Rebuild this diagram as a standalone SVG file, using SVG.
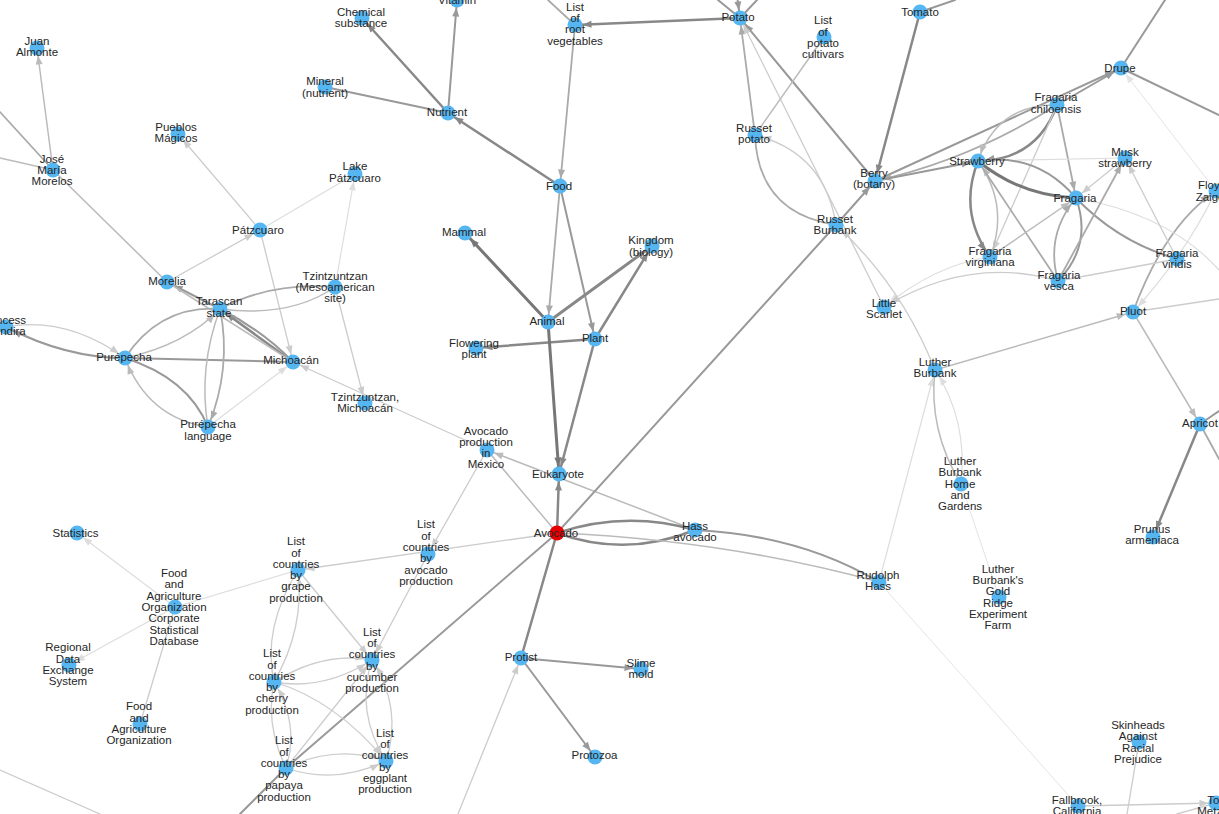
<svg xmlns="http://www.w3.org/2000/svg" width="1219" height="814" viewBox="0 0 1219 814">
<defs>
<style>
.e{fill:none;stroke-linecap:round}
.w3{stroke:#777;stroke-width:3}
.g8t{stroke:#888;stroke-width:3}
.g8{stroke:#888;stroke-width:2.5}
.g9{stroke:#999;stroke-width:2}
.ga{stroke:#aaa;stroke-width:1.8}
.gb{stroke:#bbb;stroke-width:1.5}
.gc{stroke:#ccc;stroke-width:1.3}
.gd{stroke:#ddd;stroke-width:1.2}
.ge{stroke:#e4e4e4;stroke-width:1}
.node circle{fill:#55b6f2}
.node text{font-family:"Liberation Sans",Arial,sans-serif;font-size:11.5px;fill:#262626;text-anchor:middle}
</style>
<marker id="a7" markerUnits="userSpaceOnUse" markerWidth="10" markerHeight="8" refX="16.5" refY="3.5" orient="auto" overflow="visible"><path d="M0,0 L9,3.5 L0,7 z" fill="#777"/></marker>
<marker id="a8" markerUnits="userSpaceOnUse" markerWidth="10" markerHeight="8" refX="16.5" refY="3.5" orient="auto" overflow="visible"><path d="M0,0 L9,3.5 L0,7 z" fill="#888"/></marker>
<marker id="a9" markerUnits="userSpaceOnUse" markerWidth="10" markerHeight="8" refX="16.5" refY="3.5" orient="auto" overflow="visible"><path d="M0,0 L9,3.5 L0,7 z" fill="#999"/></marker>
<marker id="aa" markerUnits="userSpaceOnUse" markerWidth="10" markerHeight="8" refX="16.5" refY="3.5" orient="auto" overflow="visible"><path d="M0,0 L9,3.5 L0,7 z" fill="#aaa"/></marker>
<marker id="ab" markerUnits="userSpaceOnUse" markerWidth="10" markerHeight="8" refX="16.5" refY="3.5" orient="auto" overflow="visible"><path d="M0,0 L9,3.5 L0,7 z" fill="#bbb"/></marker>
<marker id="ac" markerUnits="userSpaceOnUse" markerWidth="10" markerHeight="8" refX="16.5" refY="3.5" orient="auto" overflow="visible"><path d="M0,0 L9,3.5 L0,7 z" fill="#ccc"/></marker>
<marker id="ad" markerUnits="userSpaceOnUse" markerWidth="10" markerHeight="8" refX="16.5" refY="3.5" orient="auto" overflow="visible"><path d="M0,0 L9,3.5 L0,7 z" fill="#ddd"/></marker>
<marker id="ae" markerUnits="userSpaceOnUse" markerWidth="10" markerHeight="8" refX="16.5" refY="3.5" orient="auto" overflow="visible"><path d="M0,0 L9,3.5 L0,7 z" fill="#e4e4e4"/></marker>
</defs>
<rect width="1219" height="814" fill="#fff"/>
<g id="connectors">
<path class="e ga" d="M0,112 L53,170"/>
<path class="e gb" d="M0,158 L53,170"/>
<path class="e gb" d="M53,170 L37,48" marker-end="url(#ab)"/>
<path class="e gb" d="M53,170 L167,282"/>
<path class="e gc" d="M260,230 L178,134" marker-end="url(#ac)"/>
<path class="e gc" d="M167,282 L260,230" marker-end="url(#ac)"/>
<path class="e gd" d="M260,230 L355,174"/>
<path class="e gd" d="M335,287 L355,174" marker-end="url(#ad)"/>
<path class="e gc" d="M260,230 L293,362" marker-end="url(#ac)"/>
<path class="e gc" d="M335,287 L365,403" marker-end="url(#ac)"/>
<path class="e gc" d="M487,450 L293,362" marker-end="url(#ac)"/>
<path class="e ga" d="M220,309 Q270,282 335,287"/>
<path class="e gb" d="M220,309 Q290,318 335,287"/>
<path class="e g8" d="M293,362 L220,309" marker-end="url(#a8)"/>
<path class="e g9" d="M220,309 Q262,330 293,362"/>
<path class="e g9" d="M220,309 L167,282" marker-end="url(#a9)"/>
<path class="e gb" d="M167,282 L293,362"/>
<path class="e ga" d="M125,358 Q160,305 220,309"/>
<path class="e gb" d="M125,358 Q185,345 220,309" marker-end="url(#ab)"/>
<path class="e g9" d="M125,358 L293,362"/>
<path class="e g9" d="M125,358 Q188,378 208,427"/>
<path class="e gb" d="M208,427 Q148,418 125,358" marker-end="url(#ab)"/>
<path class="e gb" d="M220,309 Q198,368 208,427"/>
<path class="e ga" d="M220,309 Q232,368 208,427" marker-end="url(#aa)"/>
<path class="e gd" d="M208,427 L293,362" marker-end="url(#ad)"/>
<path class="e gc" d="M6,327 Q66,316 125,358" marker-end="url(#ac)"/>
<path class="e g9" d="M125,358 Q66,358 6,327" marker-end="url(#a9)"/>
<path class="e g8" d="M448,113 L362,18" marker-end="url(#a8)"/>
<path class="e g9" d="M448,113 L457,0" marker-end="url(#a9)"/>
<path class="e g9" d="M448,113 L325,87"/>
<path class="e g8" d="M560,186 L448,113" marker-end="url(#a8)"/>
<path class="e ga" d="M575,25 L560,186" marker-end="url(#aa)"/>
<path class="e ga" d="M548,0 L575,25"/>
<path class="e g8" d="M740,18 L575,25" marker-end="url(#a8)"/>
<path class="e ga" d="M560,186 L548,322" marker-end="url(#aa)"/>
<path class="e g9" d="M560,186 L595,339" marker-end="url(#a9)"/>
<path class="e w3" d="M548,322 L465,233" marker-end="url(#a7)"/>
<path class="e g8t" d="M548,322 L652,246" marker-end="url(#a8)"/>
<path class="e g8" d="M595,339 L652,246" marker-end="url(#a8)"/>
<path class="e g8" d="M595,339 L476,348" marker-end="url(#a8)"/>
<path class="e w3" d="M548,322 L559,474" marker-end="url(#a7)"/>
<path class="e g8" d="M595,339 L559,474" marker-end="url(#a8)"/>
<path class="e g8" d="M557,533 L559,474" marker-end="url(#a8)"/>
<path class="e gb" d="M695,530 L487,450" marker-end="url(#ab)"/>
<path class="e gb" d="M557,533 L487,450"/>
<path class="e gc" d="M487,450 L428,554" marker-end="url(#ac)"/>
<path class="e gc" d="M557,533 L298,570" marker-end="url(#ac)"/>
<path class="e gc" d="M428,554 L372,660" marker-end="url(#ac)"/>
<path class="e gc" d="M298,570 L372,660" marker-end="url(#ac)"/>
<path class="e g9" d="M557,533 L286,768"/>
<path class="e g9" d="M286,768 L240,814"/>
<path class="e g9" d="M557,533 L836,225"/>
<path class="e g8" d="M557,533 L521,658"/>
<path class="e g9" d="M521,658 L641,669" marker-end="url(#a9)"/>
<path class="e g9" d="M521,658 L595,757" marker-end="url(#a9)"/>
<path class="e gc" d="M458,814 L521,658" marker-end="url(#ac)"/>
<path class="e g8" d="M557,533 Q626,510 695,530"/>
<path class="e g8" d="M695,530 Q626,558 557,533"/>
<path class="e g9" d="M695,530 Q800,535 879,582"/>
<path class="e gb" d="M557,533 Q725,540 879,582"/>
<path class="e ge" d="M879,582 L1078,806"/>
<path class="e gd" d="M879,582 L935,370" marker-end="url(#ad)"/>
<path class="e ge" d="M961,484 L999,597"/>
<path class="e gb" d="M935,370 Q928,430 961,484"/>
<path class="e gd" d="M961,484 Q968,420 935,370" marker-end="url(#ad)"/>
<path class="e gb" d="M935,370 L1133,312" marker-end="url(#ab)"/>
<path class="e gb" d="M1133,312 L1200,424" marker-end="url(#ab)"/>
<path class="e g8" d="M1200,424 L1153,537" marker-end="url(#a8)"/>
<path class="e g9" d="M1200,424 L1219,411"/>
<path class="e ga" d="M1200,424 L1219,459"/>
<path class="e gc" d="M1133,312 L1219,299"/>
<path class="e ga" d="M1133,312 Q1165,225 1216,191" marker-end="url(#aa)"/>
<path class="e gd" d="M1216,191 Q1185,255 1133,312" marker-end="url(#ad)"/>
<path class="e ge" d="M1216,191 L1121,68" marker-end="url(#ae)"/>
<path class="e g9" d="M1121,68 L1219,115"/>
<path class="e g9" d="M1165,0 L1121,68"/>
<path class="e g8" d="M920,12 L875,181" marker-end="url(#a8)"/>
<path class="e g9" d="M920,12 L955,0"/>
<path class="e g9" d="M718,0 L740,18"/>
<path class="e g9" d="M736,-12 L740,18" marker-end="url(#a9)"/>
<path class="e g9" d="M757,0 L740,18"/>
<path class="e g9" d="M875,181 L740,18" marker-end="url(#a9)"/>
<path class="e ga" d="M755,135 L740,18" marker-end="url(#aa)"/>
<path class="e gc" d="M884,307 L740,18" marker-end="url(#ac)"/>
<path class="e gb" d="M824,37 L755,135"/>
<path class="e ga" d="M755,135 Q758,213 836,225"/>
<path class="e gc" d="M836,225 Q825,153 755,135" marker-end="url(#ac)"/>
<path class="e g9" d="M836,225 L875,181" marker-end="url(#a9)"/>
<path class="e gc" d="M935,370 Q902,286 836,225" marker-end="url(#ac)"/>
<path class="e g9" d="M875,181 L1121,68" marker-end="url(#a9)"/>
<path class="e ga" d="M1057,105 Q970,160 875,181" marker-end="url(#aa)"/>
<path class="e g9" d="M875,181 L978,161" marker-end="url(#a9)"/>
<path class="e g9" d="M1057,105 L1121,68" marker-end="url(#a9)"/>
<path class="e g8" d="M1057,105 Q1037,160 978,161"/>
<path class="e gb" d="M1057,105 Q997,104 978,161" marker-end="url(#ab)"/>
<path class="e ga" d="M1057,105 L1076,198" marker-end="url(#aa)"/>
<path class="e gc" d="M1057,105 L990,257" marker-end="url(#ac)"/>
<path class="e gd" d="M978,161 L1125,158"/>
<path class="e w3" d="M978,161 Q1021,196 1076,198"/>
<path class="e g9" d="M1076,198 Q1037,152 978,161" marker-end="url(#a9)"/>
<path class="e g8" d="M978,161 Q958,212 990,257" marker-end="url(#a8)"/>
<path class="e gb" d="M990,257 Q1010,206 978,161" marker-end="url(#ab)"/>
<path class="e ga" d="M978,161 L1058,281"/>
<path class="e g9" d="M1076,198 Q1118,242 1177,259"/>
<path class="e gd" d="M1076,198 Q1170,215 1219,270"/>
<path class="e gb" d="M990,257 L1076,198" marker-end="url(#ab)"/>
<path class="e ga" d="M1058,281 Q1045,235 1076,198" marker-end="url(#aa)"/>
<path class="e g9" d="M1058,281 Q1093,245 1076,198"/>
<path class="e ga" d="M1058,281 L1125,158" marker-end="url(#aa)"/>
<path class="e gc" d="M1125,158 L1076,198" marker-end="url(#ac)"/>
<path class="e gc" d="M1177,259 L1125,158" marker-end="url(#ac)"/>
<path class="e gc" d="M1058,281 L1177,259"/>
<path class="e gd" d="M990,257 Q935,265 884,307" marker-end="url(#ad)"/>
<path class="e gc" d="M1058,281 Q970,255 884,307" marker-end="url(#ac)"/>
<path class="e gd" d="M175,607 L77,533" marker-end="url(#ad)"/>
<path class="e gd" d="M175,607 L69,665" marker-end="url(#ad)"/>
<path class="e gc" d="M175,607 L140,724"/>
<path class="e gd" d="M298,570 L175,607"/>
<path class="e gc" d="M0,770 L100,814"/>
<path class="e gc" d="M298,570 Q262,628 274,682"/>
<path class="e gc" d="M274,682 Q305,628 298,570" marker-end="url(#ac)"/>
<path class="e gc" d="M274,682 Q323,651 372,660" marker-end="url(#ac)"/>
<path class="e gc" d="M274,682 Q323,691 372,660" marker-end="url(#ac)"/>
<path class="e gc" d="M274,682 Q335,700 386,761" marker-end="url(#ac)"/>
<path class="e gc" d="M274,682 Q265,725 286,768"/>
<path class="e gc" d="M286,768 Q300,725 274,682" marker-end="url(#ac)"/>
<path class="e gc" d="M286,768 L372,660" marker-end="url(#ac)"/>
<path class="e gc" d="M286,768 Q336,744 386,761" marker-end="url(#ac)"/>
<path class="e gc" d="M286,768 Q336,785 386,761" marker-end="url(#ac)"/>
<path class="e gc" d="M372,660 Q355,712 386,761" marker-end="url(#ac)"/>
<path class="e gc" d="M386,761 Q403,708 372,660" marker-end="url(#ac)"/>
<path class="e gc" d="M1139,742 L1127,814"/>
<path class="e gc" d="M1078,806 L1216,803" marker-end="url(#ac)"/>
<path class="e gc" d="M1177,814 L1216,803"/>
</g>
<g id="nodes">
<g id="n-juan" class="node"><circle cx="37" cy="48" r="7.5"/><text y="44.55"><tspan x="37">Juan</tspan><tspan x="37" dy="11.3">Almonte</tspan></text></g>
<g id="n-morelos" class="node"><circle cx="53" cy="170" r="7.5"/><text y="162.7"><tspan x="52">José</tspan><tspan x="52" dy="11.3">María</tspan><tspan x="52" dy="11.3">Morelos</tspan></text></g>
<g id="n-pueblos" class="node"><circle cx="178" cy="134" r="7.5"/><text y="130.85"><tspan x="176">Pueblos</tspan><tspan x="176" dy="11.3">Mágicos</tspan></text></g>
<g id="n-patzcuaro" class="node"><circle cx="260" cy="230" r="7.5"/><text x="258" y="234">Pátzcuaro</text></g>
<g id="n-lake" class="node"><circle cx="355" cy="174" r="7.5"/><text y="170.35"><tspan x="355">Lake</tspan><tspan x="355" dy="11.3">Pátzcuaro</tspan></text></g>
<g id="n-morelia" class="node"><circle cx="167" cy="282" r="7.5"/><text x="167" y="285">Morelia</text></g>
<g id="n-tarascan" class="node"><circle cx="220" cy="309" r="7.5"/><text y="305.35"><tspan x="219">Tarascan</tspan><tspan x="219" dy="11.3">state</tspan></text></g>
<g id="n-tzmeso" class="node"><circle cx="335" cy="287" r="7.5"/><text y="279.7"><tspan x="335">Tzintzuntzan</tspan><tspan x="335" dy="11.3">(Mesoamerican</tspan><tspan x="335" dy="11.3">site)</tspan></text></g>
<g id="n-erendira" class="node"><circle cx="6" cy="327" r="7.5"/><text y="323.6"><tspan x="4">Princess</tspan><tspan x="4" dy="11.3">Eréndira</tspan></text></g>
<g id="n-purepecha" class="node"><circle cx="125" cy="358" r="7.5"/><text x="124" y="361">Purépecha</text></g>
<g id="n-michoacan" class="node"><circle cx="293" cy="362" r="7.5"/><text x="291" y="363.5">Michoacán</text></g>
<g id="n-purlang" class="node"><circle cx="208" cy="427" r="7.5"/><text y="428.35"><tspan x="208">Purépecha</tspan><tspan x="208" dy="11.3">language</tspan></text></g>
<g id="n-tzmich" class="node"><circle cx="365" cy="403" r="7.5"/><text y="400.85"><tspan x="365">Tzintzuntzan,</tspan><tspan x="365" dy="11.3">Michoacán</tspan></text></g>
<g id="n-statistics" class="node"><circle cx="77" cy="533" r="7.5"/><text x="75.5" y="537">Statistics</text></g>
<g id="n-faocsd" class="node"><circle cx="175" cy="607" r="7.5"/><text y="577.1"><tspan x="174">Food</tspan><tspan x="174" dy="11.3">and</tspan><tspan x="174" dy="11.3">Agriculture</tspan><tspan x="174" dy="11.3">Organization</tspan><tspan x="174" dy="11.3">Corporate</tspan><tspan x="174" dy="11.3">Statistical</tspan><tspan x="174" dy="11.3">Database</tspan></text></g>
<g id="n-rdes" class="node"><circle cx="69" cy="665" r="7.5"/><text y="651.35"><tspan x="68">Regional</tspan><tspan x="68" dy="11.3">Data</tspan><tspan x="68" dy="11.3">Exchange</tspan><tspan x="68" dy="11.3">System</tspan></text></g>
<g id="n-fao" class="node"><circle cx="140" cy="724" r="7.5"/><text y="710.25"><tspan x="139">Food</tspan><tspan x="139" dy="11.3">and</tspan><tspan x="139" dy="11.3">Agriculture</tspan><tspan x="139" dy="11.3">Organization</tspan></text></g>
<g id="n-vitamin" class="node"><circle cx="457" cy="0" r="7.5"/><text x="457" y="4">Vitamin</text></g>
<g id="n-chem" class="node"><circle cx="362" cy="18" r="7.5"/><text y="15.55"><tspan x="361">Chemical</tspan><tspan x="361" dy="11.3">substance</tspan></text></g>
<g id="n-mineral" class="node"><circle cx="325" cy="87" r="7.5"/><text y="85.35"><tspan x="325">Mineral</tspan><tspan x="325" dy="11.3">(nutrient)</tspan></text></g>
<g id="n-nutrient" class="node"><circle cx="448" cy="113" r="7.5"/><text x="447" y="116.3">Nutrient</text></g>
<g id="n-rootveg" class="node"><circle cx="575" cy="25" r="7.5"/><text y="10.8"><tspan x="575">List</tspan><tspan x="575" dy="11.3">of</tspan><tspan x="575" dy="11.3">root</tspan><tspan x="575" dy="11.3">vegetables</tspan></text></g>
<g id="n-food" class="node"><circle cx="560" cy="186" r="7.5"/><text x="559" y="189.7">Food</text></g>
<g id="n-mammal" class="node"><circle cx="465" cy="233" r="7.5"/><text x="464" y="235.7">Mammal</text></g>
<g id="n-kingdom" class="node"><circle cx="652" cy="246" r="7.5"/><text y="244.2"><tspan x="651">Kingdom</tspan><tspan x="651" dy="11.3">(biology)</tspan></text></g>
<g id="n-potato" class="node"><circle cx="740" cy="18" r="7.5"/><text x="738" y="21.3">Potato</text></g>
<g id="n-potcult" class="node"><circle cx="824" cy="37" r="7.5"/><text y="24.3"><tspan x="823">List</tspan><tspan x="823" dy="11.3">of</tspan><tspan x="823" dy="11.3">potato</tspan><tspan x="823" dy="11.3">cultivars</tspan></text></g>
<g id="n-russetpot" class="node"><circle cx="755" cy="135" r="7.5"/><text y="131.65"><tspan x="754">Russet</tspan><tspan x="754" dy="11.3">potato</tspan></text></g>
<g id="n-berry" class="node"><circle cx="875" cy="181" r="7.5"/><text y="177.15"><tspan x="874">Berry</tspan><tspan x="874" dy="11.3">(botany)</tspan></text></g>
<g id="n-russetbur" class="node"><circle cx="836" cy="225" r="7.5"/><text y="222.85"><tspan x="835">Russet</tspan><tspan x="835" dy="11.3">Burbank</tspan></text></g>
<g id="n-tomato" class="node"><circle cx="920" cy="12" r="7.5"/><text x="920" y="15.7">Tomato</text></g>
<g id="n-drupe" class="node"><circle cx="1121" cy="68" r="7.5"/><text x="1120" y="72.3">Drupe</text></g>
<g id="n-fchil" class="node"><circle cx="1057" cy="105" r="7.5"/><text y="101.35"><tspan x="1056">Fragaria</tspan><tspan x="1056" dy="11.3">chiloensis</tspan></text></g>
<g id="n-strawberry" class="node"><circle cx="978" cy="161" r="7.5"/><text x="977" y="164.7">Strawberry</text></g>
<g id="n-musk" class="node"><circle cx="1125" cy="158" r="7.5"/><text y="155.85"><tspan x="1125">Musk</tspan><tspan x="1125" dy="11.3">strawberry</tspan></text></g>
<g id="n-fragaria" class="node"><circle cx="1076" cy="198" r="7.5"/><text x="1075" y="201.7">Fragaria</text></g>
<g id="n-floyd" class="node"><circle cx="1216" cy="191" r="7.5"/><text y="189.2"><tspan x="1212">Floyd</tspan><tspan x="1212" dy="11.3">Zaiger</tspan></text></g>
<g id="n-fvirg" class="node"><circle cx="990" cy="257" r="7.5"/><text y="254.55"><tspan x="990">Fragaria</tspan><tspan x="990" dy="11.3">virginiana</tspan></text></g>
<g id="n-fvesca" class="node"><circle cx="1058" cy="281" r="7.5"/><text y="279"><tspan x="1059">Fragaria</tspan><tspan x="1059" dy="11.3">vesca</tspan></text></g>
<g id="n-fviridis" class="node"><circle cx="1177" cy="259" r="7.5"/><text y="257.15"><tspan x="1177">Fragaria</tspan><tspan x="1177" dy="11.3">viridis</tspan></text></g>
<g id="n-pluot" class="node"><circle cx="1133" cy="312" r="7.5"/><text x="1133" y="315.3">Pluot</text></g>
<g id="n-scarlet" class="node"><circle cx="884" cy="307" r="7.5"/><text y="306.55"><tspan x="884">Little</tspan><tspan x="884" dy="11.3">Scarlet</tspan></text></g>
<g id="n-luther" class="node"><circle cx="935" cy="370" r="7.5"/><text y="365.85"><tspan x="935">Luther</tspan><tspan x="935" dy="11.3">Burbank</tspan></text></g>
<g id="n-apricot" class="node"><circle cx="1200" cy="424" r="7.5"/><text x="1200" y="427">Apricot</text></g>
<g id="n-lbhome" class="node"><circle cx="961" cy="484" r="7.5"/><text y="464.9"><tspan x="960">Luther</tspan><tspan x="960" dy="11.3">Burbank</tspan><tspan x="960" dy="11.3">Home</tspan><tspan x="960" dy="11.3">and</tspan><tspan x="960" dy="11.3">Gardens</tspan></text></g>
<g id="n-prunus" class="node"><circle cx="1153" cy="537" r="7.5"/><text y="532.55"><tspan x="1152">Prunus</tspan><tspan x="1152" dy="11.3">armeniaca</tspan></text></g>
<g id="n-goldridge" class="node"><circle cx="999" cy="597" r="7.5"/><text y="572.75"><tspan x="998">Luther</tspan><tspan x="998" dy="11.3">Burbank's</tspan><tspan x="998" dy="11.3">Gold</tspan><tspan x="998" dy="11.3">Ridge</tspan><tspan x="998" dy="11.3">Experiment</tspan><tspan x="998" dy="11.3">Farm</tspan></text></g>
<g id="n-skinheads" class="node"><circle cx="1139" cy="742" r="7.5"/><text y="729.05"><tspan x="1138">Skinheads</tspan><tspan x="1138" dy="11.3">Against</tspan><tspan x="1138" dy="11.3">Racial</tspan><tspan x="1138" dy="11.3">Prejudice</tspan></text></g>
<g id="n-fallbrook" class="node"><circle cx="1078" cy="806" r="7.5"/><text y="803.85"><tspan x="1077">Fallbrook,</tspan><tspan x="1077" dy="11.3">California</tspan></text></g>
<g id="n-metzger" class="node"><circle cx="1216" cy="803" r="7.5"/><text y="803.85"><tspan x="1218">Tom</tspan><tspan x="1218" dy="11.3">Metzger</tspan></text></g>
<g id="n-animal" class="node"><circle cx="548" cy="322" r="7.5"/><text x="547" y="325">Animal</text></g>
<g id="n-plant" class="node"><circle cx="595" cy="339" r="7.5"/><text x="595" y="341.7">Plant</text></g>
<g id="n-flowering" class="node"><circle cx="476" cy="348" r="7.5"/><text y="346.55"><tspan x="474">Flowering</tspan><tspan x="474" dy="11.3">plant</tspan></text></g>
<g id="n-eukaryote" class="node"><circle cx="559" cy="474" r="7.5"/><text x="558" y="477.7">Eukaryote</text></g>
<g id="n-avmex" class="node"><circle cx="487" cy="450" r="7.5"/><text y="434.55"><tspan x="486">Avocado</tspan><tspan x="486" dy="11.3">production</tspan><tspan x="486" dy="11.3">in</tspan><tspan x="486" dy="11.3">Mexico</tspan></text></g>
<g id="n-avocado" class="node"><circle cx="557" cy="533" r="7.5" style="fill:#e60000"/><text x="556" y="536.7">Avocado</text></g>
<g id="n-hass" class="node"><circle cx="695" cy="530" r="7.5"/><text y="529.85"><tspan x="695">Hass</tspan><tspan x="695" dy="11.3">avocado</tspan></text></g>
<g id="n-rudolph" class="node"><circle cx="879" cy="582" r="7.5"/><text y="578.55"><tspan x="878">Rudolph</tspan><tspan x="878" dy="11.3">Hass</tspan></text></g>
<g id="n-lcavocado" class="node"><circle cx="428" cy="554" r="7.5"/><text y="528.45"><tspan x="426">List</tspan><tspan x="426" dy="11.3">of</tspan><tspan x="426" dy="11.3">countries</tspan><tspan x="426" dy="11.3">by</tspan><tspan x="426" dy="11.3">avocado</tspan><tspan x="426" dy="11.3">production</tspan></text></g>
<g id="n-lcgrape" class="node"><circle cx="298" cy="570" r="7.5"/><text y="545.25"><tspan x="296">List</tspan><tspan x="296" dy="11.3">of</tspan><tspan x="296" dy="11.3">countries</tspan><tspan x="296" dy="11.3">by</tspan><tspan x="296" dy="11.3">grape</tspan><tspan x="296" dy="11.3">production</tspan></text></g>
<g id="n-lccucumber" class="node"><circle cx="372" cy="660" r="7.5"/><text y="635.75"><tspan x="372">List</tspan><tspan x="372" dy="11.3">of</tspan><tspan x="372" dy="11.3">countries</tspan><tspan x="372" dy="11.3">by</tspan><tspan x="372" dy="11.3">cucumber</tspan><tspan x="372" dy="11.3">production</tspan></text></g>
<g id="n-lccherry" class="node"><circle cx="274" cy="682" r="7.5"/><text y="657.25"><tspan x="272">List</tspan><tspan x="272" dy="11.3">of</tspan><tspan x="272" dy="11.3">countries</tspan><tspan x="272" dy="11.3">by</tspan><tspan x="272" dy="11.3">cherry</tspan><tspan x="272" dy="11.3">production</tspan></text></g>
<g id="n-lcpapaya" class="node"><circle cx="286" cy="768" r="7.5"/><text y="744.25"><tspan x="284">List</tspan><tspan x="284" dy="11.3">of</tspan><tspan x="284" dy="11.3">countries</tspan><tspan x="284" dy="11.3">by</tspan><tspan x="284" dy="11.3">papaya</tspan><tspan x="284" dy="11.3">production</tspan></text></g>
<g id="n-lceggplant" class="node"><circle cx="386" cy="761" r="7.5"/><text y="736.75"><tspan x="385">List</tspan><tspan x="385" dy="11.3">of</tspan><tspan x="385" dy="11.3">countries</tspan><tspan x="385" dy="11.3">by</tspan><tspan x="385" dy="11.3">eggplant</tspan><tspan x="385" dy="11.3">production</tspan></text></g>
<g id="n-protist" class="node"><circle cx="521" cy="658" r="7.5"/><text x="521" y="661">Protist</text></g>
<g id="n-slime" class="node"><circle cx="641" cy="669" r="7.5"/><text y="666.55"><tspan x="641">Slime</tspan><tspan x="641" dy="11.3">mold</tspan></text></g>
<g id="n-protozoa" class="node"><circle cx="595" cy="757" r="7.5"/><text x="594.5" y="759.3">Protozoa</text></g>
</g>
</svg>
